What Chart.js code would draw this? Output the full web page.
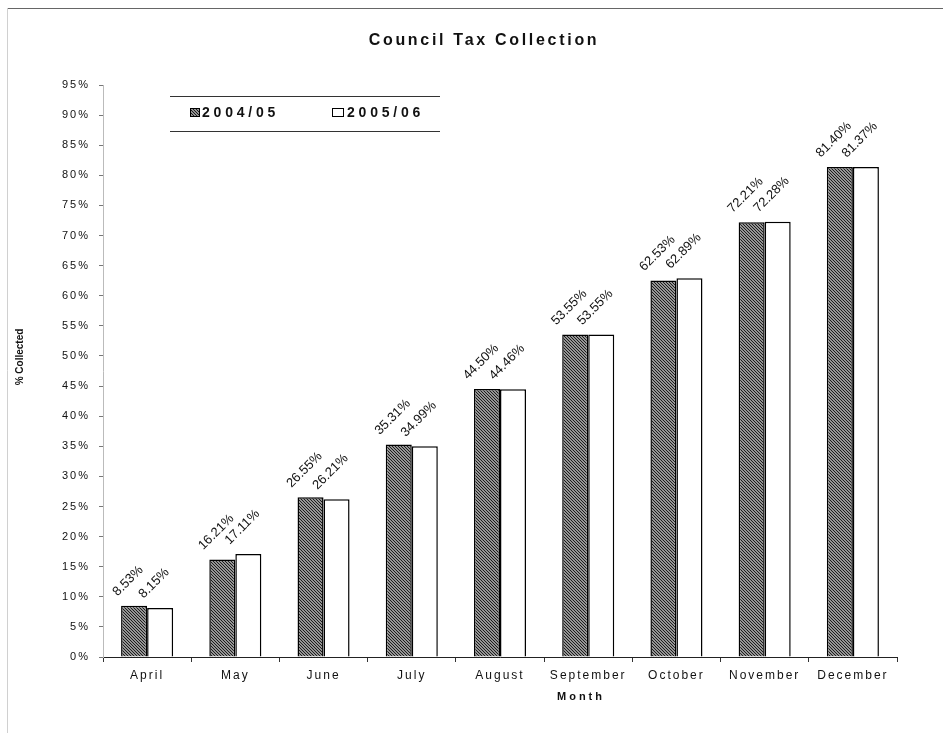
<!DOCTYPE html>
<html><head><meta charset="utf-8">
<script src="https://cdn.jsdelivr.net/npm/chart.js@4/dist/chart.umd.min.js"></script>
<style>html,body{margin:0;padding:0;background:#fff}#wrap{width:943px;height:733px;position:relative}</style>
</head><body><div id="wrap"><canvas id="c" width="943" height="733"></canvas></div>
<script>
const months = ['April','May','June','July','August','September','October','November','December'];
const seriesNames = ['2004/05','2005/06'];
const collected0405 = [8.53,16.21,26.55,35.31,44.50,53.55,62.53,72.21,81.40];
const collected0506 = [8.15,17.11,26.21,34.99,44.46,53.55,62.89,72.28,81.37];
const chartTitle = 'Council Tax Collection';
const xTitle = 'Month';
const yTitle = '% Collected';
const yMin = 0, yMax = 95, yStep = 5;

const FONT = "'Liberation Sans', Arial, sans-serif";

function makeHatch(){
  const c = document.createElement('canvas');
  c.width = 3; c.height = 3;
  const g = c.getContext('2d');
  g.fillStyle = '#949494'; g.fillRect(0,0,3,3);
  g.fillStyle = '#1c1c1c';
  for(let i=0;i<3;i++){ g.fillRect(i,i,1,1); }
  return g.createPattern(c,'repeat');
}
const hatch = makeHatch();

const deco = {
  id:'deco',
  beforeDraw(chart){
    const ctx = chart.ctx;
    ctx.save();
    ctx.fillStyle='#fff'; ctx.fillRect(0,0,chart.width,chart.height);
    ctx.lineWidth=1;
    ctx.strokeStyle='#666';
    ctx.beginPath(); ctx.moveTo(7,8.5); ctx.lineTo(943,8.5); ctx.stroke();
    ctx.strokeStyle='#d0d0d0';
    ctx.beginPath(); ctx.moveTo(7.5,8); ctx.lineTo(7.5,733); ctx.stroke();
    ctx.restore();
    ctx.letterSpacing = '2px';
  },
  afterDatasetsDraw(chart){
    const ctx = chart.ctx;
    ctx.save();
    ctx.letterSpacing = '0px';
    ctx.font = "13px " + FONT;
    ctx.fillStyle = '#111';
    ctx.textAlign = 'center';
    ctx.textBaseline = 'middle';
    chart.data.datasets.forEach((ds,di)=>{
      const meta = chart.getDatasetMeta(di);
      meta.data.forEach((bar,i)=>{
        const txt = ds.data[i].toFixed(2) + '%';
        const w = ctx.measureText(txt).width;
        const box = (w + 13) * 0.7071;
        const cx = bar.x - 6;
        const cy = bar.y - 7 - box/2;
        ctx.save();
        ctx.translate(cx, cy);
        ctx.rotate(-Math.PI/4);
        ctx.fillText(txt, 0, 0);
        ctx.restore();
      });
    });
    ctx.restore();
  },
  afterDraw(chart){
    const ctx = chart.ctx;
    ctx.save();
    ctx.fillStyle = '#111';
    ctx.textBaseline = 'middle';
    // title
    ctx.letterSpacing = '2.7px';
    ctx.font = "bold 16px " + FONT;
    ctx.textAlign = 'center';
    ctx.fillText(chartTitle, 484, 41);
    // x title
    ctx.letterSpacing = '3px';
    ctx.font = "bold 11px " + FONT;
    ctx.fillText(xTitle, 581, 697);
    // y title
    ctx.letterSpacing = '0px';
    ctx.save();
    ctx.translate(20, 357);
    ctx.rotate(-Math.PI/2);
    ctx.font = "bold 10px " + FONT;
    ctx.fillText(yTitle, 0, 0);
    ctx.restore();
    // legend
    ctx.strokeStyle = '#333'; ctx.lineWidth = 1;
    ctx.beginPath(); ctx.moveTo(170,96.5); ctx.lineTo(440,96.5); ctx.stroke();
    ctx.beginPath(); ctx.moveTo(170,131.5); ctx.lineTo(440,131.5); ctx.stroke();
    const lx = [[190,10,202],[332,12,347]];
    ctx.textAlign = 'left';
    ctx.letterSpacing = '3.8px';
    ctx.font = "bold 14px " + FONT;
    chart.data.datasets.forEach((ds,di)=>{
      const [sx,sw,tx] = lx[di];
      ctx.fillStyle = ds.backgroundColor;
      ctx.fillRect(sx,108,sw,9);
      ctx.strokeStyle = '#000';
      ctx.strokeRect(sx+0.5,108.5,sw-1,8);
      ctx.fillStyle = '#111';
      ctx.fillText(ds.label, tx, 113);
    });
    ctx.restore();
  }
};

new Chart(document.getElementById('c'), {
  type:'bar',
  data:{
    labels: months,
    datasets:[
      {label: seriesNames[0], data: collected0405, backgroundColor: hatch, borderColor:'#000', borderWidth:1.5, barPercentage:1.0, categoryPercentage:0.59},
      {label: seriesNames[1], data: collected0506, backgroundColor: '#ffffff', borderColor:'#000', borderWidth:1.5, barPercentage:1.0, categoryPercentage:0.59}
    ]
  },
  options:{
    responsive:false,
    devicePixelRatio:1,
    animation:false,
    layout:{padding:{top:85,right:46,bottom:0,left:0}},
    plugins:{legend:{display:false}, title:{display:false}, tooltip:{enabled:false}},
    scales:{
      x:{
        grid:{display:true, drawOnChartArea:false, drawTicks:true, tickLength:5, color:'#333', offset:true},
        border:{display:true, color:'#222', width:1},
        ticks:{color:'#111', font:{family:FONT, size:12}, padding:6, maxRotation:0, autoSkip:false},
        afterFit(s){ s.height = 76; }
      },
      y:{
        min:yMin, max:yMax,
        grid:{display:true, drawOnChartArea:false, drawTicks:true, tickLength:4, color:'#777'},
        border:{display:true, color:'#bbb', width:1},
        ticks:{stepSize:yStep, color:'#111', font:{family:FONT, size:11}, padding:9, callback:v=>v+'%'},
        afterFit(s){ s.width = 103; }
      }
    }
  },
  plugins:[deco]
});
</script>
</body></html>
